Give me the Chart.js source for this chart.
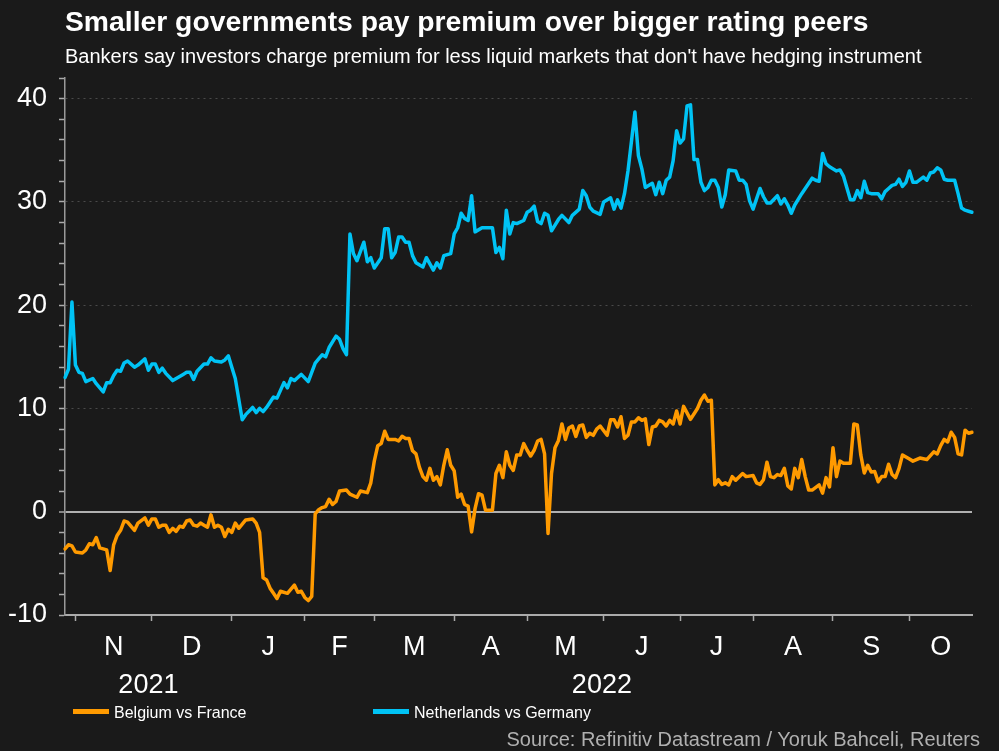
<!DOCTYPE html>
<html>
<head>
<meta charset="utf-8">
<script src="https://cdn.jsdelivr.net/npm/chart.js@4.4.0/dist/chart.umd.min.js"></script>
<style>
  body { margin: 0; background: #1a1a1a; width: 999px; height: 751px; overflow: hidden; position: relative;
         font-family: 'Liberation Sans', Arial, sans-serif; color: #fff; }
  canvas { position: absolute; left: 0; top: 0; }
  .txt { position: absolute; white-space: nowrap; line-height: 1; }
  .key { position: absolute; width: 36px; height: 5px; }
</style>
</head>
<body>
<canvas id="chart" width="999" height="751" style="width:999px;height:751px"></canvas>

<div class="txt" style="left:65px;top:7px;font-size:28.3px;font-weight:bold">Smaller governments pay premium over bigger rating peers</div>
<div class="txt" style="left:65px;top:46px;font-size:20px">Bankers say investors charge premium for less liquid markets that don't have hedging instrument</div>

<div class="key" style="left:73px;top:709px;background:#ff9a00"></div>
<div class="txt" style="left:114px;top:705px;font-size:16px">Belgium vs France</div>
<div class="key" style="left:373px;top:709px;background:#00c3f5"></div>
<div class="txt" style="left:414px;top:705px;font-size:16px">Netherlands vs Germany</div>

<div class="txt" style="right:19px;top:729px;font-size:20px;color:#b0b0b0">Source: Refinitiv Datastream / Yoruk Bahceli, Reuters</div>

<script>
// business days covered by the chart
const startDay = '2021-10-27';
const endDay = '2022-10-27';

// axis labels
const monthKeys = ['2021-11', '2021-12', '2022-01', '2022-02', '2022-03', '2022-04',
                   '2022-05', '2022-06', '2022-07', '2022-08', '2022-09', '2022-10'];
const monthLetters = ['N', 'D', 'J', 'F', 'M', 'A', 'M', 'J', 'J', 'A', 'S', 'O'];
const yearLabels = ['2021', '2022'];
const yMin = -10, yMax = 42, yStep = 2, yLabelEvery = 10;

// spread in bp, one value per business day (null = not read)
const belgiumFrance = [
  -3.6, -3.2, -3.3, -3.9, null, -4.0, -3.7, -3.1, -3.2, -2.5,
  -3.5, -3.6, -3.7, -5.7, -3.2, -2.3, -1.8, -0.9, -1.0, null,
  -1.8, -1.1, null, -0.6, -1.3, -0.7, -0.7, -1.5, -1.3, -1.3,
  -2.0, -1.6, -1.9, -1.4, -1.5, -0.9, -0.8, -1.3, -1.4, -1.1,
  -1.3, -1.5, -0.3, -1.5, -1.3, -1.5, -2.4, -1.7, -2.0, -1.1,
  -1.6, -1.2, -0.8, null, -0.7, -1.1, -2.0, -6.4, -6.6, -7.4,
  -7.9, -8.4, -7.7, null, -7.9, null, -7.1, -7.8, -7.7, -8.3,
  -8.6, -8.2, -0.2, 0.2, 0.4, 0.5, 1.2, 0.7, 1.0, 2.0,
  null, 2.1, 1.7, null, 1.4, 2.0, null, 1.85, 2.8, 4.9,
  6.4, 6.6, 7.8, 7.0, null, 7.0, 6.85, 7.3, 7.1, 7.1,
  5.9, 5.6, 4.3, 3.4, 3.05, 4.2, 3.05, 3.4, 2.6, 4.5,
  6.0, 4.5, 3.95, 1.4, 1.7, 0.7, 0.55, -1.95, 0.3, 1.75,
  1.6, 0.15, null, 0.15, 3.7, 4.5, 3.3, 5.8, 4.5, 4.0,
  5.5, 5.5, 6.6, 5.95, 5.4, 5.95, 6.85, 7.0, 5.6, -2.1,
  3.7, 6.2, 6.9, 8.5, 7.0, 8.1, 8.3, 7.3, 8.3, 8.4,
  7.2, 7.6, 7.4, 8.0, 8.3, null, 7.4, 8.9, 8.9, 8.2,
  9.2, 7.1, 7.4, 8.7, 8.7, 9.1, 8.85, 9.0, 6.5, 8.2,
  8.3, 8.85, 8.7, 8.3, 8.85, 8.5, 9.75, 8.5, 10.2, null,
  8.95, null, 10.0, 10.8, 11.3, 10.7, 10.8, 2.6, 3.1, 2.65,
  2.8, 2.6, 3.4, 3.05, null, 3.7, 3.4, null, 3.5, 2.8,
  2.65, 3.1, 4.8, 3.4, 3.3, 3.6, 3.5, 4.2, 2.5, 2.2,
  4.2, 3.3, 5.05, 3.4, 2.1, 2.1, null, 2.6, 1.8, 3.3,
  2.4, 6.2, 3.4, 4.9, 4.7, null, 4.7, 8.5, 8.4, 5.5,
  3.75, 4.5, 3.85, 3.9, 2.9, 3.4, 3.4, 4.6, 3.6, 3.3,
  4.2, 5.5, null, 5.1, 4.9, null, 5.2, null, 5.05, null,
  5.8, 5.6, 6.4, 7.0, 6.75, 7.7, 7.2, 5.6, 5.5, 7.9,
  7.6, 7.7
];

const netherlandsGermany = [
  13.0, 13.8, 20.3, 14.2, 13.5, 13.4, 12.6, null, 12.9, 12.4,
  null, 11.6, 12.5, 12.5, 13.2, 13.7, 13.6, 14.4, 14.6, null,
  14.0, 14.2, null, 14.8, 13.7, 14.3, 14.3, 13.5, 13.9, 13.4,
  null, 12.7, null, 13.1, 13.3, 13.5, 13.5, 12.8, 13.6, null,
  14.3, 14.3, 14.9, 14.6, null, 14.5, 14.7, 15.1, 14.0, 12.9,
  null, 8.9, 9.4, null, 10.1, 9.6, 10.0, 9.7, 10.1, 10.6,
  11.1, 11.0, null, 12.5, 12.0, 12.9, 12.7, 13.0, 13.3, null,
  12.6, null, 14.4, 14.8, 15.2, 15.0, 15.9, null, 17.0, 16.7,
  15.8, 15.2, 26.9, 25.0, 24.3, null, 26.1, 24.2, 24.6, 23.6,
  null, 24.6, 27.4, 27.4, 24.6, 25.1, 26.6, 26.6, 26.1, 26.1,
  24.8, 24.1, null, 23.7, 24.6, null, 23.4, 24.1, 23.6, 24.8,
  null, 25.0, 26.9, 27.5, 28.9, 28.4, 28.2, 30.6, 27.1, null,
  27.5, null, null, 27.5, 25.1, 25.6, 24.5, 29.2, 26.9, 28.0,
  27.9, null, 28.2, 29.0, 29.2, 29.6, 28.1, 27.9, 28.9, 28.7,
  27.2, null, 28.3, 28.7, null, 28.0, 28.7, null, 29.3, 31.1,
  30.6, 29.5, 29.1, null, 28.8, 30.0, null, 30.4, 29.3, 30.2,
  29.4, 30.8, 33.0, null, 38.7, 34.5, 33.2, 31.4, null, 31.8,
  30.7, 31.9, 30.8, 32.1, 32.4, 34.0, 36.9, 35.7, 36.1, 39.3,
  39.4, 34.1, 34.1, 31.9, 31.1, 31.4, 32.1, 32.1, 31.4, 29.5,
  30.7, 33.1, null, 33.0, 32.1, 32.1, 31.7, 30.1, 29.3, null,
  31.3, 30.5, 29.9, 29.9, null, 30.6, 29.8, 30.3, 29.7, 28.9,
  29.7, null, 30.8, null, null, 32.3, 32.1, 32.0, 34.7, 33.7,
  33.4, null, 33.0, 33.1, 32.5, null, 30.2, 30.2, 31.1, 30.4,
  32.0, 30.9, 30.8, null, 30.8, 30.3, 31.0, 31.3, 31.6, 31.7,
  32.2, 31.5, 31.9, 33.0, 31.9, 31.9, null, 32.4, 32.1, 32.8,
  32.9, 33.3, 33.1, 32.2, 32.1, null, 32.1, 30.8, 29.4, 29.2,
  29.1, 29.0
];

function businessDays(a, b) {
  const out = [];
  const d = new Date(a + 'T00:00:00Z');
  const e = new Date(b + 'T00:00:00Z');
  while (d <= e) {
    const w = d.getUTCDay();
    if (w !== 0 && w !== 6) out.push(d.toISOString().slice(0, 10));
    d.setUTCDate(d.getUTCDate() + 1);
  }
  return out;
}
const days = businessDays(startDay, endDay);
const last = days.length - 1;

// x ticks: marks at month starts, letters mid-month, years under them
const bounds = monthKeys.map(k => days.findIndex(d => d.startsWith(k)));
let xTicks = [];
bounds.forEach((b, i) => {
  const next = i < bounds.length - 1 ? bounds[i + 1] : last;
  xTicks.push({ value: b, label: '', mark: true });
  xTicks.push({ value: (b + next) / 2, label: monthLetters[i], mark: false });
});
const jan = bounds[2];
xTicks.push({ value: jan / 2, label: ['', yearLabels[0]], mark: false });
xTicks.push({ value: (jan + last) / 2, label: ['', yearLabels[1]], mark: false });
xTicks.sort((a, b) => a.value - b.value);

// y ticks every 2, labelled every 10
const yTicks = [];
for (let v = yMin; v <= yMax; v += yStep) yTicks.push({ value: v });

Chart.defaults.font.family = "'Liberation Sans', Arial, sans-serif";
Chart.defaults.color = '#ffffff';

new Chart(document.getElementById('chart'), {
  type: 'line',
  data: {
    labels: days,
    datasets: [
      { label: 'Belgium vs France', data: belgiumFrance, borderColor: '#ff9a00', backgroundColor: '#ff9a00' },
      { label: 'Netherlands vs Germany', data: netherlandsGermany, borderColor: '#00c3f5', backgroundColor: '#00c3f5' }
    ]
  },
  options: {
    responsive: false,
    devicePixelRatio: 1,
    animation: false,
    spanGaps: true,
    layout: { padding: { top: 78, right: 27, bottom: 0, left: 0 } },
    elements: {
      line: { borderWidth: 3.5, tension: 0, borderJoinStyle: 'round', borderCapStyle: 'round' },
      point: { radius: 0 }
    },
    plugins: { legend: { display: false }, tooltip: { enabled: false } },
    scales: {
      x: {
        type: 'category',
        offset: false,
        afterFit: s => { s.height = 136; },
        afterBuildTicks: s => { s.ticks = xTicks.map(t => ({ value: t.value })); },
        ticks: {
          autoSkip: false, maxRotation: 0, minRotation: 0, padding: 8,
          color: '#fff',
          font: { size: 27, lineHeight: 1.4 },
          callback: (v, i) => xTicks[i].label
        },
        grid: {
          drawOnChartArea: false,
          tickLength: 6,
          tickWidth: 1.5,
          tickColor: c => (xTicks[c.index] && xTicks[c.index].mark) ? '#aaaaaa' : 'rgba(0,0,0,0)'
        },
        border: { color: '#aaaaaa', width: 2 }
      },
      y: {
        min: yMin, max: yMax,
        afterFit: s => { s.width = 65; },
        afterBuildTicks: s => { s.ticks = yTicks.map(t => ({ value: t.value })); },
        ticks: {
          autoSkip: false, padding: 12, color: '#fff',
          font: { size: 27 },
          callback: v => (v % yLabelEvery === 0 ? v : '')
        },
        grid: {
          color: c => {
            const v = c.tick ? c.tick.value : null;
            if (v === 0) return '#b0b0b0';
            if (v > yMin && v % yLabelEvery === 0) return '#4a4a4a';
            return 'rgba(0,0,0,0)';
          },
          lineWidth: c => (c.tick && c.tick.value === 0 ? 2 : 1),
          tickColor: '#aaaaaa',
          tickLength: 6,
          tickWidth: 1.5
        },
        border: {
          color: '#999999', width: 1.5,
          dash: c => (c.tick && c.tick.value === 0 ? [] : [2, 4])
        }
      }
    }
  }
});
</script>
</body>
</html>
